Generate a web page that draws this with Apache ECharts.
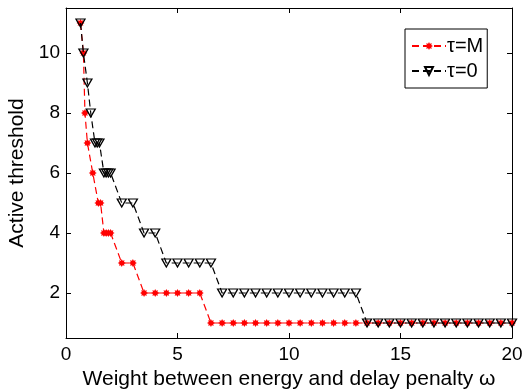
<!DOCTYPE html>
<html>
<head>
<meta charset="utf-8">
<style>
  html, body { margin: 0; padding: 0; background: #fff; }
  #chart { width: 524px; height: 390px; }
</style>
<script src="https://cdn.jsdelivr.net/npm/echarts@6/dist/echarts.min.js"></script>
</head>
<body>
<div id="chart"></div>
<script>
// Active threshold versus the energy/delay weight, for two values of tau
const tauMOmega = [0.65, 0.78, 0.85, 0.96, 1.2, 1.45, 1.55, 1.7, 1.8, 1.9, 2.0,
  2.5, 3.0, 3.5, 4.0, 4.5, 5.0, 5.5, 6.0,
  6.5, 7.0, 7.5, 8.0, 8.5, 9.0, 9.5, 10.0, 10.5, 11.0, 11.5, 12.0, 12.5, 13.0,
  13.5, 14.0, 14.5, 15.0, 15.5, 16.0, 16.5, 17.0, 17.5, 18.0, 18.5, 19.0, 19.5, 20.0];
const tauMThreshold = [11, 10, 8, 7, 6, 5, 5, 4, 4, 4, 4,
  3, 3, 2, 2, 2, 2, 2, 2,
  1, 1, 1, 1, 1, 1, 1, 1, 1, 1, 1, 1, 1, 1,
  1, 1, 1, 1, 1, 1, 1, 1, 1, 1, 1, 1, 1, 1];

const tau0Omega = [0.65, 0.78, 0.96, 1.11, 1.3, 1.4, 1.5, 1.7, 1.8, 1.9, 2.0,
  2.5, 3.0, 3.5, 4.0, 4.5, 5.0, 5.5, 6.0, 6.5,
  7.0, 7.5, 8.0, 8.5, 9.0, 9.5, 10.0, 10.5, 11.0, 11.5, 12.0, 12.5, 13.0,
  13.5, 14.0, 14.5, 15.0, 15.5, 16.0, 16.5, 17.0, 17.5, 18.0, 18.5, 19.0, 19.5, 20.0];
const tau0Threshold = [11, 10, 9, 8, 7, 7, 7, 6, 6, 6, 6,
  5, 5, 4, 4, 3, 3, 3, 3, 3,
  2, 2, 2, 2, 2, 2, 2, 2, 2, 2, 2, 2, 2,
  1, 1, 1, 1, 1, 1, 1, 1, 1, 1, 1, 1, 1, 1];

const seriesNames = ['\u03c4=M', '\u03c4=0'];
const xTicks = [0, 5, 10, 15, 20];
const yTicks = [2, 4, 6, 8, 10];

// 8-pointed star used as the asterisk marker
function starPath(points, inner) {
  let d = '';
  for (let i = 0; i < points * 2; i++) {
    const r = i % 2 === 0 ? 1 : inner;
    const a = Math.PI * i / points - Math.PI / 2;
    d += (i === 0 ? 'M' : 'L') + (r * Math.cos(a)).toFixed(3) + ' ' + (r * Math.sin(a)).toFixed(3) + ' ';
  }
  return 'path://' + d + 'Z';
}

const pairs = (xs, ys) => xs.map((x, i) => [x, ys[i]]);
const font = 'Liberation Sans, Arial, Helvetica, sans-serif';

const chart = echarts.init(document.getElementById('chart'), null, { renderer: 'canvas' });

const tickCommon = { show: true, inside: true, length: 5, lineStyle: { color: '#000', width: 1 } };

chart.setOption({
  animation: false,
  backgroundColor: '#fff',
  grid: { left: 66, right: 12, top: 8, bottom: 52, containLabel: false, outerBoundsMode: 'none' },
  legend: {
    orient: 'vertical',
    left: 405,
    top: 29,
    padding: [7, 4, 7, 6],
    itemGap: 5,
    itemWidth: 34,
    itemHeight: 10,
    borderColor: '#000',
    borderWidth: 1,
    backgroundColor: '#fff',
    textStyle: { fontFamily: font, fontSize: 20, color: '#000', padding: [0, 0, 0, -4] },
    data: seriesNames
  },
  xAxis: [{
    type: 'value', min: 0, max: 20, interval: 5,
    name: 'Weight between energy and delay penalty \u03c9',
    nameLocation: 'middle', nameGap: 25,
    nameTextStyle: { fontFamily: font, fontSize: 21, color: '#000' },
    axisLine: { show: true, onZero: false, lineStyle: { color: '#000', width: 1 } },
    axisTick: Object.assign({ customValues: xTicks }, tickCommon),
    axisLabel: { customValues: xTicks, fontFamily: font, fontSize: 19, color: '#000', margin: 7 },
    splitLine: { show: false }
  }, {
    type: 'value', min: 0, max: 20, interval: 5, position: 'top',
    axisLine: { show: true, onZero: false, lineStyle: { color: '#000', width: 1 } },
    axisTick: Object.assign({ customValues: xTicks }, tickCommon),
    axisLabel: { show: false },
    splitLine: { show: false }
  }],
  yAxis: [{
    type: 'value', min: 0.5, max: 11.5,
    name: 'Active threshold',
    nameLocation: 'middle', nameGap: 31,
    nameTextStyle: { fontFamily: font, fontSize: 21, color: '#000' },
    axisLine: { show: true, onZero: false, lineStyle: { color: '#000', width: 1 } },
    axisTick: Object.assign({ customValues: yTicks }, tickCommon),
    axisLabel: { customValues: yTicks, fontFamily: font, fontSize: 19, color: '#000', margin: 6 },
    splitLine: { show: false }
  }, {
    type: 'value', min: 0.5, max: 11.5, position: 'right',
    axisLine: { show: true, onZero: false, lineStyle: { color: '#000', width: 1 } },
    axisTick: Object.assign({ customValues: yTicks }, tickCommon),
    axisLabel: { show: false },
    splitLine: { show: false }
  }],
  series: [{
    name: seriesNames[0],
    type: 'line',
    data: pairs(tauMOmega, tauMThreshold),
    symbol: starPath(8, 0.6),
    symbolSize: 8,
    showAllSymbol: true,
    lineStyle: { color: '#ff0000', width: 1.2, type: [7, 4] },
    itemStyle: { color: '#ff0000' },
    z: 2
  }, {
    name: seriesNames[1],
    type: 'line',
    data: pairs(tau0Omega, tau0Threshold),
    symbol: 'triangle',
    symbolRotate: 180,
    symbolSize: [9, 8],
    showAllSymbol: true,
    lineStyle: { color: '#000', width: 1.2, type: [7, 4] },
    itemStyle: { color: 'rgba(255,255,255,0)', borderColor: '#000', borderWidth: 1.3 },
    z: 3
  }]
});
</script>
</body>
</html>
